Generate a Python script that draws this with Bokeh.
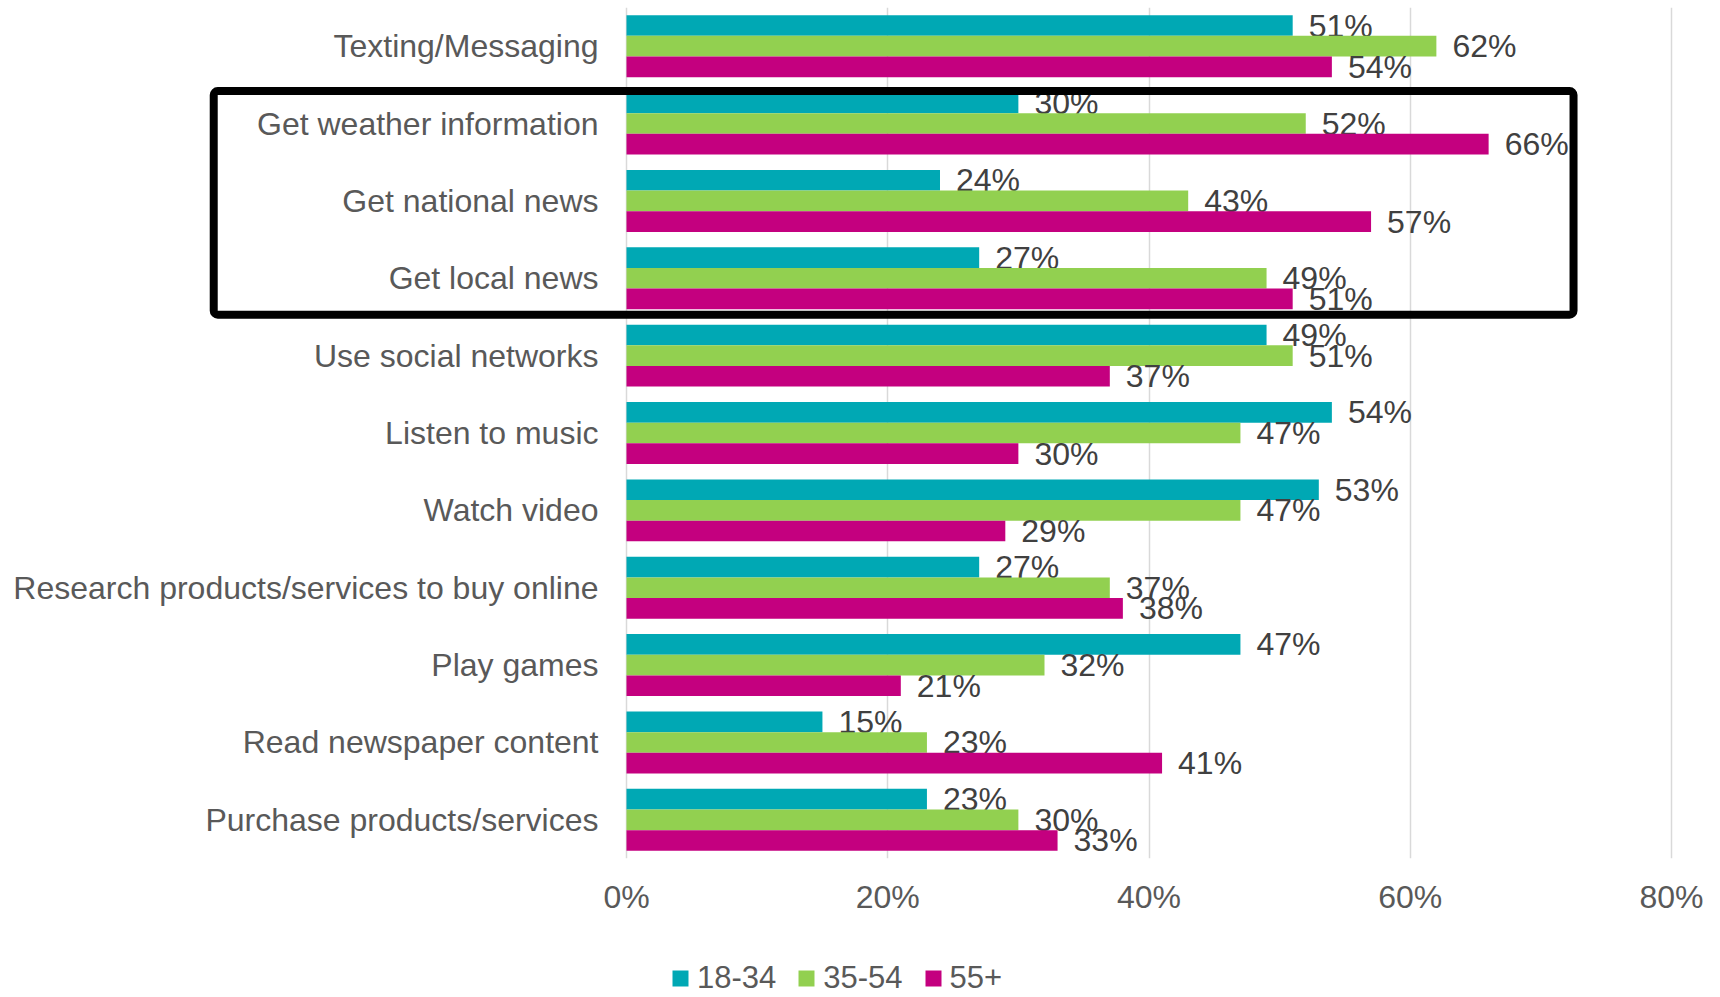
from bokeh.plotting import figure
from bokeh.layouts import column
from bokeh.models import (ColumnDataSource, FactorRange, Range1d, Legend, LegendItem,
                          BoxAnnotation, PrintfTickFormatter, FixedTicker)
from bokeh.transform import dodge
from bokeh.core.properties import value
from bokeh.embed import file_html
from bokeh.resources import INLINE

# ---------------- data ----------------
categories = ["Texting/Messaging", "Get weather information", "Get national news",
              "Get local news", "Use social networks", "Listen to music", "Watch video",
              "Research products/services to buy online", "Play games",
              "Read newspaper content", "Purchase products/services"]
age_18_34 = [51, 30, 24, 27, 49, 54, 53, 27, 47, 15, 23]
age_35_54 = [62, 52, 43, 49, 51, 47, 47, 37, 32, 23, 30]
age_55_plus = [54, 66, 57, 51, 37, 30, 29, 38, 21, 41, 33]
series_names = ["18-34", "35-54", "55+"]
x_ticks = [0, 20, 40, 60, 80]
highlighted = ["Get weather information", "Get national news", "Get local news"]

# ---------------- style ----------------
colors = ["#00A8B4", "#92D050", "#C4007F"]
FONT = "Liberation Sans"
factors = list(reversed(categories))

W = 1719
H1 = 940
H2 = 56
px_per_unit = 1045 / 80.0
zero_px = 626
x_start = -zero_px / px_per_unit
x_end = 80 + (W - zero_px - 1045) / px_per_unit

p = figure(width=W, height=H1, output_backend="svg", toolbar_location=None,
           y_range=FactorRange(*factors, range_padding=0),
           x_range=Range1d(x_start, x_end))
p.min_border_left = 0
p.min_border_right = 0
p.min_border_top = 7
p.min_border_bottom = H1 - 858
p.outline_line_color = None
p.background_fill_color = "white"

bh = 0.267
offsets = [bh, 0, -bh]
series = [age_18_34, age_35_54, age_55_plus]
for name, vals, off, col in zip(series_names, series, offsets, colors):
    src = ColumnDataSource(dict(cat=categories, v=vals, lab=[f"{v}%" for v in vals]))
    p.hbar(y=dodge("cat", off, range=p.y_range), right="v", left=0, height=bh,
           color=col, line_color=None, source=src)
    p.text(x="v", y=dodge("cat", off, range=p.y_range), text="lab", source=src,
           x_offset=16, text_baseline="middle", text_align="left",
           text_font=value(FONT), text_font_size="32px", text_color="#404040")

# category labels (drawn in the plot area so the highlight box can surround them)
cat_src = ColumnDataSource(dict(cat=categories, x0=[0] * len(categories)))
p.text(x="x0", y="cat", text="cat", source=cat_src, x_offset=-28,
       text_align="right", text_baseline="middle",
       text_font=value(FONT), text_font_size="32px", text_color="#595959")

# highlight box
idx_top = factors.index(highlighted[0])
idx_bot = factors.index(highlighted[-1])
box = BoxAnnotation(left=-31.6, right=72.5, top=idx_top + 1 - 0.08, bottom=idx_bot + 0.03,
                    fill_alpha=0, line_color="black", line_alpha=1.0, line_width=8,
                    border_radius=4)
p.add_layout(box)

# axes
p.yaxis.visible = False
p.xaxis.ticker = FixedTicker(ticks=x_ticks)
p.xaxis.formatter = PrintfTickFormatter(format="%d%%")
p.xaxis.axis_line_color = None
p.xaxis.major_tick_line_color = None
p.xaxis.minor_tick_line_color = None
p.xaxis.major_label_standoff = 14
p.xaxis.major_label_text_font = FONT
p.xaxis.major_label_text_font_size = "32px"
p.xaxis.major_label_text_color = "#595959"

p.ygrid.grid_line_color = None
p.xgrid.ticker = FixedTicker(ticks=x_ticks)
p.xgrid.grid_line_color = "#D9D9D9"
p.xgrid.grid_line_width = 1.5

# ---------------- legend strip ----------------
p2 = figure(width=W, height=H2, output_backend="svg", toolbar_location=None,
            x_range=Range1d(0, 1), y_range=Range1d(0, 1))
p2.min_border_left = p2.min_border_right = p2.min_border_top = p2.min_border_bottom = 0
p2.outline_line_color = None
p2.axis.visible = False
p2.grid.visible = False
items = []
for name, col in zip(series_names, colors):
    # legend-only swatch renderer, placed outside the visible range
    r = p2.hbar(y=[5], right=[0], left=[0], height=0.1, fill_color=col, line_color=None)
    items.append(LegendItem(label=name, renderers=[r]))
legend = Legend(items=items, orientation="horizontal", location=(670, 0),
                glyph_width=20, glyph_height=20, label_standoff=7, spacing=20,
                padding=0, margin=0, border_line_color=None, background_fill_alpha=0,
                label_text_font=FONT, label_text_font_size="31px",
                label_text_color="#595959")
p2.add_layout(legend, "center")

open("out.html", "w").write(file_html(column(p, p2), INLINE))
